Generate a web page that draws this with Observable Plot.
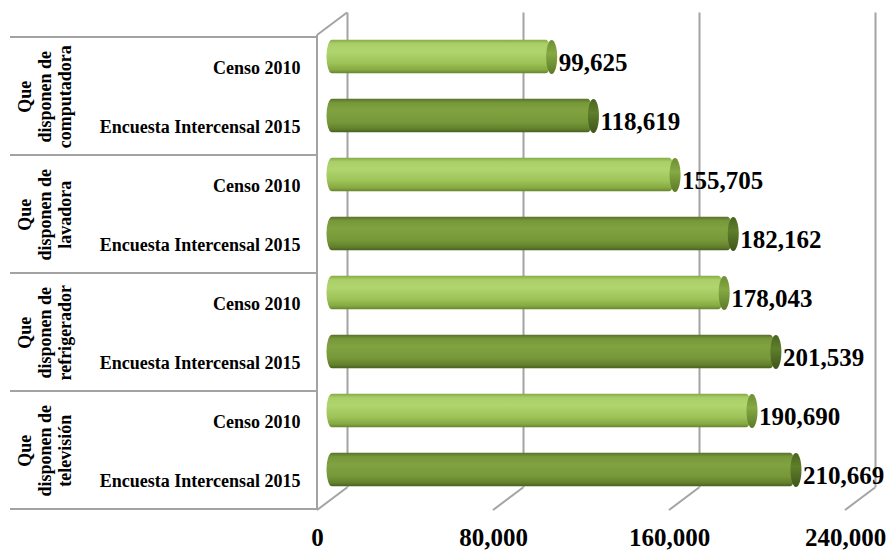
<!DOCTYPE html>
<html>
<head>
<meta charset="utf-8">
<script src="https://cdn.jsdelivr.net/npm/d3@7"></script>
<script src="https://cdn.jsdelivr.net/npm/@observablehq/plot@0.6"></script>
<style>
  html, body { margin: 0; padding: 0; background: #fff; }
  #chart svg { display: block; }
</style>
</head>
<body>
<div id="chart"></div>
<script>
// ---- data ----
const groupLabels = [
  "Que\ndisponen de\ncomputadora",
  "Que\ndisponen de\nlavadora",
  "Que\ndisponen de\nrefrigerador",
  "Que\ndisponen de\ntelevisión"
];
const seriesNames = ["Censo 2010", "Encuesta Intercensal 2015"];
const censo2010 = [99625, 155705, 178043, 190690];
const encuesta2015 = [118619, 182162, 201539, 210669];
const xTicks = [0, 80000, 160000, 240000];

// ---- table ----
const key = (g, s) => `${g}|${s}`;
const rows = [];
groupLabels.forEach((gl, g) => {
  rows.push({key: key(g, 0), series: seriesNames[0], s: 0, value: censo2010[g]});
  rows.push({key: key(g, 1), series: seriesNames[1], s: 1, value: encuesta2015[g]});
});
const groupsData = groupLabels.map((label, g) => ({label, key: key(g, 0)}));
const fmt = d3.format(",");

// ---- 3D style constants ----
const DX = 30, DY = -22.5;          // depth of the back wall
const BDX = 15, BDY = -10;          // bars sit at mid depth
const CAP_RX = 5.5, CAP_RY = 17;
const serif = "'Liberation Serif', 'Times New Roman', serif";

const ellipseSymbol = {
  draw(ctx) {
    const rx = CAP_RX, ry = CAP_RY, k = 0.5523;
    ctx.moveTo(rx, 0);
    ctx.bezierCurveTo(rx, ry * k, rx * k, ry, 0, ry);
    ctx.bezierCurveTo(-rx * k, ry, -rx, ry * k, -rx, 0);
    ctx.bezierCurveTo(-rx, -ry * k, -rx * k, -ry, 0, -ry);
    ctx.bezierCurveTo(rx * k, -ry, rx, -ry * k, rx, 0);
    ctx.closePath();
  }
};

// decorations: category box, front-left wall edge, top corner and floor slants
function frame3d(index, scales, values, dims) {
  const x = scales.x, y = scales.y;
  const bw = y.bandwidth();
  const x0 = x(0);
  const top = dims.marginTop, bottom = dims.height - dims.marginBottom;
  const g = d3.create("svg:g")
    .attr("stroke", "#a3a3a3").attr("stroke-width", 2).attr("fill", "none");
  const bounds = groupLabels.map((_, i) => y(key(i, 0)));
  bounds.push(y(key(groupLabels.length - 1, 1)) + bw);
  for (const b of bounds) {
    g.append("line").attr("x1", 10).attr("x2", x0).attr("y1", b).attr("y2", b);
  }
  g.append("line").attr("x1", x0).attr("x2", x0).attr("y1", top).attr("y2", bottom);
  g.append("line").attr("x1", x0).attr("x2", x0 + DX).attr("y1", top).attr("y2", top + DY);
  for (const t of xTicks) {
    g.append("line").attr("x1", x(t)).attr("x2", x(t) + DX)
      .attr("y1", bottom).attr("y2", bottom + DY);
  }
  return g.node();
}

const chart = Plot.plot({
  width: 893,
  height: 551,
  marginLeft: 317,
  marginRight: 48,
  marginTop: 35,
  marginBottom: 41,
  style: {fontFamily: serif, fontSize: "25px", fontWeight: "bold", color: "#000", background: "#fff"},
  x: {domain: [0, 240000], ticks: xTicks, tickFormat: fmt, tickSize: 0, tickPadding: 18, label: null},
  y: {domain: rows.map(d => d.key), axis: null, padding: 0},
  marks: [
    Plot.ruleX(xTicks, {x: d => d, dx: DX, dy: DY, stroke: "#a3a3a3", strokeWidth: 2}),
    frame3d,
    Plot.barX(rows, {
      x1: 0, x2: "value", y: "key",
      fill: d => d.s === 0 ? "url(#gLight)" : "url(#gDark)",
      insetTop: 12.7, insetBottom: 12.7, insetLeft: -CAP_RX,
      rx: CAP_RX, ry: CAP_RY,
      dx: BDX, dy: BDY
    }),
    Plot.dot(rows, {
      x: "value", y: "key", symbol: ellipseSymbol, r: 5,
      fill: d => d.s === 0 ? "url(#cLight)" : "url(#cDark)",
      stroke: null, dx: BDX, dy: BDY
    }),
    Plot.text(rows, {
      x: "value", y: "key", text: d => fmt(d.value),
      textAnchor: "start", dx: 22, dy: -4,
      fontSize: 25, fontWeight: "bold", fill: "#000"
    }),
    Plot.text(rows, {
      x: 0, y: "key", text: "series",
      textAnchor: "end", dx: -17, dy: 1,
      fontSize: 18, fontWeight: "bold", fill: "#000"
    }),
    Plot.text(groupsData, {
      y: "key", text: "label", frameAnchor: "left",
      rotate: -90, textAnchor: "middle", lineAnchor: "middle", lineHeight: 1.1,
      dx: -273, dy: 29.7,
      fontSize: 18, fontWeight: "bold", fill: "#000"
    })
  ]
});

const defs = `
<linearGradient id="gLight" x1="0" y1="0" x2="0" y2="1">
  <stop offset="0" stop-color="#86a944"/>
  <stop offset="0.12" stop-color="#aacf68"/>
  <stop offset="0.35" stop-color="#b0d56f"/>
  <stop offset="0.7" stop-color="#9dc257"/>
  <stop offset="0.9" stop-color="#86a942"/>
  <stop offset="1" stop-color="#66832c"/>
</linearGradient>
<linearGradient id="gDark" x1="0" y1="0" x2="0" y2="1">
  <stop offset="0" stop-color="#56712a"/>
  <stop offset="0.12" stop-color="#779839"/>
  <stop offset="0.35" stop-color="#80a241"/>
  <stop offset="0.7" stop-color="#779838"/>
  <stop offset="0.9" stop-color="#62802c"/>
  <stop offset="1" stop-color="#47601f"/>
</linearGradient>
<linearGradient id="cLight" x1="0" y1="0" x2="0" y2="1">
  <stop offset="0" stop-color="#6f8f33"/>
  <stop offset="0.4" stop-color="#85a943"/>
  <stop offset="1" stop-color="#5c7a26"/>
</linearGradient>
<linearGradient id="cDark" x1="0" y1="0" x2="0" y2="1">
  <stop offset="0" stop-color="#4a6420"/>
  <stop offset="0.4" stop-color="#5f7f2b"/>
  <stop offset="1" stop-color="#3f5519"/>
</linearGradient>`;
d3.select(chart).insert("defs", ":first-child").html(defs);

document.getElementById("chart").appendChild(chart);
</script>
</body>
</html>
